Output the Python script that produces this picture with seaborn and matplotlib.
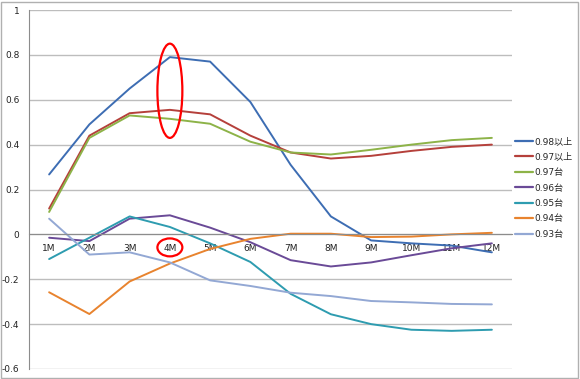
import numpy as np
import pandas as pd
import matplotlib
matplotlib.use("Agg")
import matplotlib.pyplot as plt
import seaborn as sns
from matplotlib.patches import Ellipse, Rectangle
from matplotlib.ticker import FixedLocator

months = ["1M", "2M", "3M", "4M", "5M", "6M", "7M", "8M", "9M", "10M", "11M", "12M"]
series_names = ["0.98以上", "0.97以上", "0.97台", "0.96台", "0.95台", "0.94台", "0.93台"]

s098_up = [0.267, 0.49, 0.65, 0.79, 0.77, 0.59, 0.31, 0.08, -0.027, -0.04, -0.05, -0.08]
s097_up = [0.115, 0.44, 0.54, 0.555, 0.535, 0.44, 0.365, 0.338, 0.35, 0.372, 0.39, 0.40]
s097 = [0.10, 0.43, 0.53, 0.515, 0.493, 0.413, 0.365, 0.356, 0.377, 0.40, 0.42, 0.43]
s096 = [-0.015, -0.03, 0.07, 0.085, 0.03, -0.035, -0.115, -0.143, -0.125, -0.093, -0.062, -0.04]
s095 = [-0.11, -0.015, 0.08, 0.033, -0.04, -0.123, -0.265, -0.356, -0.40, -0.425, -0.43, -0.425]
s094 = [-0.258, -0.355, -0.21, -0.13, -0.065, -0.02, 0.003, 0.003, -0.012, -0.01, 0.0, 0.007]
s093 = [0.07, -0.09, -0.08, -0.125, -0.205, -0.23, -0.26, -0.275, -0.297, -0.303, -0.31, -0.312]

colors = ["#3D6DB3", "#B5403B", "#8DB348", "#6A4A97", "#2E9CB0", "#E8832E", "#93A8D4"]
y_ticks = [1, 0.8, 0.6, 0.4, 0.2, 0, -0.2, -0.4, -0.6]
y_labels = ["1", "0.8", "0.6", "0.4", "0.2", "0", "-0.2", "-0.4", "-0.6"]

all_values = [s098_up, s097_up, s097, s096, s095, s094, s093]
rows = []
for name, vals in zip(series_names, all_values):
    for m, v in zip(months, vals):
        rows.append({"month": m, "value": v, "series": name})
df = pd.DataFrame(rows)

sns.set_style("white")
plt.rcParams["font.family"] = ["DejaVu Sans", "Noto Sans CJK JP"]

fig = plt.figure(figsize=(5.8, 3.79), dpi=100)
ax = fig.add_axes([29 / 580, 10 / 379, 483 / 580, 359 / 379])

sns.lineplot(data=df, x="month", y="value", hue="series", hue_order=series_names,
             palette=colors, sort=False, linewidth=1.4, ax=ax, legend=False)

ax.set_xlim(-0.5, len(months) - 0.5)
ax.set_ylim(-0.6, 1.0)
ax.set_xlabel("")
ax.set_ylabel("")

# horizontal gridlines
ax.yaxis.set_major_locator(FixedLocator(y_ticks))
ax.set_yticklabels(y_labels, fontsize=6.5, color="#222222")
ax.grid(axis="y", color="#BDBDBD", linewidth=1.0)
ax.grid(axis="x", visible=False)
ax.set_axisbelow(True)
ax.tick_params(axis="y", length=0, pad=7)

# category axis crossing at zero
for s in ["top", "right"]:
    ax.spines[s].set_visible(False)
ax.spines["left"].set_color("#8C8C8C")
ax.spines["bottom"].set_position(("data", 0))
ax.spines["bottom"].set_color("#8C8C8C")
ax.set_xticks(range(len(months)))
ax.set_xticklabels(months, fontsize=6.5, color="#222222")
ax.set_xticks(np.arange(-0.5, len(months), 1), minor=True)
ax.tick_params(axis="x", which="major", length=0, pad=7)
ax.tick_params(axis="x", which="minor", length=4, color="#8C8C8C", direction="out")

# red highlight marks around 4M
i4 = months.index("4M")
ax.add_patch(Ellipse((i4, 0.64), 0.62, 0.42, fill=False, edgecolor="#FF0000", linewidth=1.6, zorder=5))
ax.add_patch(Ellipse((i4, -0.058), 0.62, 0.08, fill=False, edgecolor="#FF0000", linewidth=1.6, zorder=5))

# legend
handles = [plt.Line2D([0], [0], color=c, linewidth=1.6) for c in colors]
fig.legend(handles, series_names, loc="upper left", bbox_to_anchor=(515 / 580, 1 - 137 / 379),
           frameon=False, fontsize=6.5, handlelength=2.0, handletextpad=0.1,
           labelspacing=0.72, borderaxespad=0, borderpad=0)

# outer chart border
fig.patches.append(Rectangle((0.002, 0.003), 0.995, 0.993, transform=fig.transFigure,
                             fill=False, edgecolor="#B0B0B0", linewidth=1.0))

fig.savefig("out.png", dpi=100)
